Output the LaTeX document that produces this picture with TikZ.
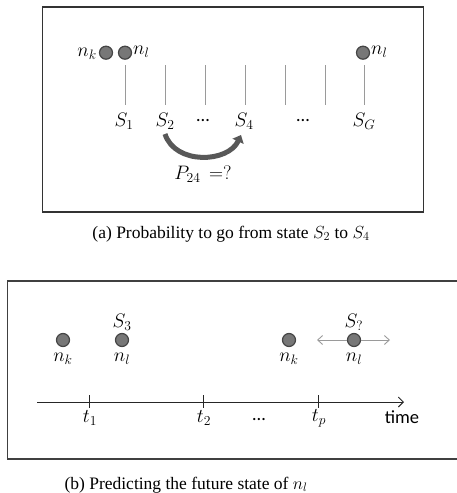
\RequirePackage{fix-cm}
\documentclass[tikz,border=0pt]{standalone}
\usepackage{fontspec}
\setmainfont{Liberation Serif}
\newfontfamily\calib{Carlito}
\usetikzlibrary{arrows.meta}
\definecolor{dotfill}{HTML}{777777}
\definecolor{dotline}{HTML}{454545}
\definecolor{tickgray}{HTML}{9A9A9A}
\definecolor{arcgray}{HTML}{585858}
\tikzset{
  x=1pt, y=-1pt,
  dot/.style={circle, fill=dotfill, draw=dotline, line width=1.2pt, minimum size=13pt, inner sep=0pt},
  lbl/.style={inner sep=0pt, font=\fontsize{19.5}{22}\selectfont},
  sanslbl/.style={inner sep=0pt, font=\calib\fontsize{18.5}{21}\selectfont},
  captext/.style={inner sep=0pt, font=\fontsize{17.5}{20}\selectfont},
  frame/.style={draw=black!80, line width=1.3pt},
  stateline/.style={draw=tickgray, line width=0.9pt},
}
\begin{document}
\begin{tikzpicture}
\useasboundingbox (0,0) rectangle (456,493);
% ---------- (a) ----------
\draw[frame] (42.3,7) rectangle (423.3,212);
\node[dot] (c1) at (106,52.7) {};
\node[dot] (c2) at (125,52.7) {};
\node[dot] (c3) at (363,52.7) {};
\node[lbl, anchor=east] (nk1) at (97,54) {$n_k$};
\node[lbl, anchor=west] (nl1) at (133,52) {$n_l$};
\node[lbl, anchor=west] (nl2) at (371,52) {$n_l$};
\foreach \i/\x in {1/125,2/165,3/205,4/245,5/285,6/325,7/364}{
  \coordinate (t\i) at (\x,65);
  \coordinate (b\i) at (\x,105);
  \draw[stateline] (t\i) -- (b\i);
}
\node[lbl] (s1) at (124,121) {$S_1$};
\node[lbl] (s2) at (165,121) {$S_2$};
\node[sanslbl] (d1) at (203,121) {…};
\node[lbl] (s4) at (244,121) {$S_4$};
\node[sanslbl] (d2) at (303,121) {…};
\node[lbl] (sg) at (364,121) {$S_G$};
\coordinate (arcA) at (165,134);
\coordinate (arcB) at (241,135);
\draw[arcgray, line width=5pt, -{Triangle[length=7pt,width=12pt]}]
  (arcA) .. controls (175,165) and (228,163) .. (arcB);
\node[lbl] (p24) at (203,174) {$P_{24}\,=?$};
\node[captext] (capa) at (231,234) {(a) Probability to go from state $S_2$ to $S_4$};
% ---------- (b) ----------
\draw[frame, draw=black!75] (457,281) -- (7.5,281) -- (7.5,459) -- (457,459);
\node[dot] (d1b) at (63,340) {};
\node[dot] (d2b) at (122,340) {};
\node[dot] (d3b) at (289,340) {};
\node[dot] (d4b) at (354,340) {};
\node[lbl] (nka) at (63,359) {$n_k$};
\node[lbl] (nla) at (122,359) {$n_l$};
\node[lbl] (nkb) at (289,359) {$n_k$};
\node[lbl] (nlb) at (354,359) {$n_l$};
\node[lbl] (s3) at (122,322) {$S_3$};
\node[lbl] (sq) at (354,322) {$S_{?}$};
\coordinate (da) at (317,340);
\coordinate (db) at (390,340);
\draw[draw=tickgray, line width=0.9pt, {Straight Barb[length=5pt,width=9pt]}-] (da) -- (d4b);
\draw[draw=tickgray, line width=0.9pt, -{Straight Barb[length=5pt,width=9pt]}] (d4b) -- (db);
\coordinate (ax0) at (37,402);
\coordinate (ax1) at (404,402);
\draw[black!85, line width=0.9pt, -{Straight Barb[length=5pt,width=10pt]}] (ax0) -- (ax1);
\foreach \i/\x in {1/89,2/203,3/318}{
  \coordinate (ta\i) at (\x,395);
  \coordinate (tb\i) at (\x,408);
  \draw[black!85, line width=0.9pt] (ta\i) -- (tb\i);
}
\node[lbl] (t1) at (90,418) {$t_1$};
\node[lbl] (t2) at (204,418) {$t_2$};
\node[sanslbl] (d3) at (259,420) {…};
\node[lbl] (tp) at (319,418) {$t_p$};
\node[sanslbl] (time) at (402,417) {time};
\node[captext] (capb) at (186,485) {(b) Predicting the future state of $n_l$};
\end{tikzpicture}
\end{document}
